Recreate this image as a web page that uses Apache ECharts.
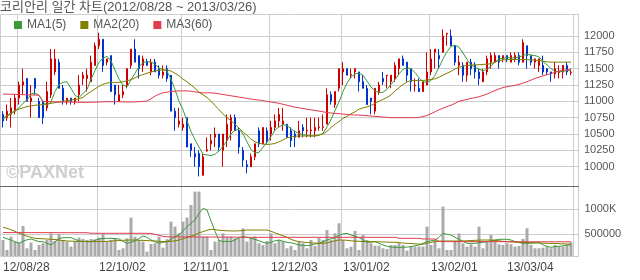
<!DOCTYPE html>
<html><head><meta charset="utf-8">
<script src="https://cdn.jsdelivr.net/npm/echarts@6/dist/echarts.min.js"></script>
<style>html,body{margin:0;padding:0;background:#fff;}#c{width:640px;height:280px;}</style>
</head><body><div id="c"></div>
<script>
const titleText = '코리안리 일간 차트(2012/08/28 ~ 2013/03/26)';
const dates = [
'12/08/28','12/08/29','12/08/30','12/08/31',
'12/09/03','12/09/04','12/09/05','12/09/06','12/09/07','12/09/10','12/09/11','12/09/12','12/09/13','12/09/14','12/09/17','12/09/18','12/09/19','12/09/20','12/09/21','12/09/24','12/09/25','12/09/26','12/09/27','12/09/28',
'12/10/02','12/10/04','12/10/05','12/10/08','12/10/09','12/10/10','12/10/11','12/10/12','12/10/15','12/10/16','12/10/17','12/10/18','12/10/19','12/10/22','12/10/23','12/10/24','12/10/25','12/10/26','12/10/29','12/10/30','12/10/31',
'12/11/01','12/11/02','12/11/05','12/11/06','12/11/07','12/11/08','12/11/09','12/11/12','12/11/13','12/11/14','12/11/15','12/11/16','12/11/19','12/11/20','12/11/21','12/11/22','12/11/23','12/11/26','12/11/27','12/11/28','12/11/29','12/11/30',
'12/12/03','12/12/04','12/12/05','12/12/06','12/12/07','12/12/10','12/12/11','12/12/12','12/12/13','12/12/14','12/12/17','12/12/18','12/12/20','12/12/21','12/12/24','12/12/26','12/12/27','12/12/28',
'13/01/02','13/01/03','13/01/04','13/01/07','13/01/08','13/01/09','13/01/10','13/01/11','13/01/14','13/01/15','13/01/16','13/01/17','13/01/18','13/01/21','13/01/22','13/01/23','13/01/24','13/01/25','13/01/28','13/01/29','13/01/30','13/01/31',
'13/02/01','13/02/04','13/02/05','13/02/06','13/02/07','13/02/08','13/02/12','13/02/13','13/02/14','13/02/15','13/02/18','13/02/19','13/02/20','13/02/21','13/02/22','13/02/25','13/02/26','13/02/27','13/02/28',
'13/03/04','13/03/05','13/03/06','13/03/07','13/03/08','13/03/11','13/03/12','13/03/13','13/03/14','13/03/15','13/03/18','13/03/19','13/03/20','13/03/21','13/03/22','13/03/25','13/03/26'];
const labelDates = ['12/08/28','12/10/02','12/11/01','12/12/03','13/01/02','13/02/01','13/03/04'];
const gridDates = ['12/09/03','12/10/02','12/11/01','12/12/03','13/01/02','13/02/01','13/03/04'];

const opens = [
10800,10750,10800,10850,11050,11250,11350,11000,11350,11000,
11000,10900,11100,11450,11600,11200,11000,11050,11000,11100,
11350,11350,11300,11550,11850,11950,11600,11700,11250,11000,
11100,11250,11550,11800,11700,11550,11600,11450,11600,11500,
11400,11500,11400,10850,10650,10600,10750,10350,10200,10200,
9870,10240,10350,10450,10500,10250,10400,10550,10750,10550,
10250,10030,10000,10150,10550,10350,10550,10500,10600,10700,
10650,10650,10550,10500,10450,10600,10550,10550,10550,10600,
10600,10650,11100,10950,11200,11450,11500,11400,11450,11450,
11300,11200,11050,10850,11150,11350,11390,11300,11350,11500,
11650,11600,11500,11240,11200,11150,11250,11450,11750,11700,
11750,12030,12000,11850,11550,11550,11400,11600,11550,11450,
11300,11450,11600,11600,11700,11650,11700,11600,11650,11700,
11600,11850,11700,11600,11550,11550,11500,11450,11420,11440,
11450,11550,11440];
const closes = [
10700,10850,10900,11050,11250,11300,11000,11050,11200,10750,
10750,11150,11650,11650,11200,11000,11050,11000,11050,11250,
11400,11400,11600,11850,11950,11550,11650,11150,11100,11100,
11150,11500,11800,11600,11500,11650,11550,11600,11450,11400,
11450,11350,10850,10750,10700,10650,10300,10250,10150,10000,
10150,10260,10400,10500,10300,10500,10650,10750,10550,10300,
10100,10000,10150,10350,10350,10600,10400,10600,10700,10800,
10700,10450,10400,10450,10550,10550,10560,10560,10600,10610,
10610,11100,11000,11150,11500,11500,11400,11410,11500,11300,
11200,10950,11000,11200,11250,11300,11400,11400,11550,11650,
11550,11400,11300,11250,11150,11300,11450,11650,11800,11650,
12000,12040,11850,11600,11600,11400,11600,11500,11450,11350,
11450,11650,11700,11700,11600,11700,11650,11700,11700,11600,
11900,11700,11600,11650,11650,11450,11450,11420,11500,11450,
11550,11450,11450];
const lows = [
10600,10700,10600,10800,10950,11100,11000,10750,11100,10750,
10650,10850,11050,11400,11200,10950,10950,10950,10950,11000,
11250,11150,11300,11550,11800,11450,11550,11150,10950,11000,
11050,11200,11500,11600,11350,11450,11550,11400,11450,11350,
11350,11300,10850,10550,10600,10550,10300,10150,10000,9850,
9860,10230,10250,10300,10250,10000,10300,10400,10550,10200,
10000,9900,10000,10100,10300,10350,10350,10400,10550,10600,
10550,10450,10300,10300,10450,10450,10450,10450,10450,10550,
10550,10650,10950,10900,11150,11250,11400,11350,11350,11150,
11200,10950,10800,10800,11100,11250,11200,11200,11300,11400,
11550,11300,11150,11150,11150,11150,11250,11400,11500,11500,
11750,11850,11850,11550,11400,11300,11300,11400,11350,11250,
11300,11400,11500,11600,11500,11600,11600,11600,11600,11550,
11600,11500,11550,11500,11450,11400,11400,11300,11350,11350,
11350,11400,11400];
const highs = [
10850,10950,11050,11100,11300,11500,11350,11250,11350,11050,
11000,11300,11800,11800,11650,11250,11050,11050,11050,11400,
11450,11500,11700,11900,12050,11950,11650,11700,11250,11250,
11250,11500,11800,11950,11700,11700,11650,11650,11650,11550,
11550,11550,11400,10900,10900,10750,10750,10350,10300,10250,
10200,10450,10500,10600,10500,10500,10800,10800,10800,10600,
10300,10100,10200,10350,10600,10600,10600,10700,10800,10900,
10900,10650,10600,10550,10700,10650,10750,10750,10750,10750,
10800,11200,11150,11150,11500,11600,11500,11500,11500,11450,
11400,11250,11050,11200,11300,11450,11400,11400,11600,11650,
11700,11600,11500,11350,11350,11300,11750,11800,11800,11800,
12100,12050,12100,11850,11700,11600,11600,11650,11600,11500,
11500,11700,11750,11750,11700,11700,11700,11750,11750,11750,
11950,11850,11700,11650,11650,11700,11500,11450,11600,11550,
11550,11600,11500];
const volumes = [
366000,166000,433000,333000,320000,646000,200000,313000,166000,266000,
300000,366000,500000,346000,486000,366000,333000,233000,346000,413000,
386000,366000,386000,380000,413000,500000,333000,366000,400000,166000,
200000,400000,813000,433000,366000,333000,133000,286000,300000,433000,
213000,380000,733000,633000,500000,733000,813000,1066000,1333000,1333000,
433000,433000,166000,333000,366000,500000,433000,433000,400000,400000,
600000,333000,400000,433000,300000,266000,346000,500000,300000,366000,
346000,200000,246000,166000,333000,300000,200000,366000,246000,413000,
366000,566000,366000,500000,700000,366000,200000,233000,546000,166000,
466000,366000,300000,253000,253000,200000,186000,266000,266000,300000,
266000,153000,233000,233000,233000,233000,633000,266000,366000,200000,
1033000,166000,166000,346000,500000,300000,233000,280000,233000,633000,
200000,333000,466000,366000,280000,266000,300000,280000,233000,246000,
386000,600000,266000,200000,200000,213000,233000,200000,266000,233000,
233000,266000,320000];
const ma5 = [
10730,10770,10810,10850,10900,10970,11020,11110,11130,11090,
10990,10940,10990,11150,11260,11290,11300,11200,11090,11060,
11120,11180,11340,11470,11600,11660,11690,11620,11480,11340,
11250,11220,11330,11430,11530,11590,11610,11600,11570,11510,
11490,11460,11340,11180,11000,10870,10700,10540,10410,10300,
10190,10180,10170,10190,10240,10310,10400,10500,10560,10570,
10500,10380,10260,10210,10220,10300,10370,10460,10560,10610,
10640,10630,10580,10540,10510,10490,10480,10470,10470,10480,
10510,10610,10720,10860,10990,11150,11280,11370,11420,11430,
11400,11310,11220,11160,11130,11140,11180,11260,11330,11420,
11490,11510,11500,11440,11360,11300,11290,11320,11400,11520,
11650,11760,11840,11860,11830,11740,11640,11560,11520,11490,
11470,11490,11540,11600,11650,11660,11670,11665,11665,11680,
11700,11720,11710,11700,11680,11610,11560,11500,11460,11450,
11460,11470,11480];
const ma20 = [
10740,10780,10820,10860,10880,10900,10920,10930,10940,10945,
10950,10960,10970,10980,10990,11000,11010,11020,11030,11040,
11060,11110,11150,11190,11230,11260,11280,11290,11290,11290,
11300,11315,11330,11360,11390,11410,11430,11450,11465,11475,
11480,11480,11465,11430,11390,11340,11300,11250,11200,11140,
11100,11060,11000,10940,10870,10810,10750,10700,10650,10590,
10530,10480,10420,10380,10360,10345,10340,10345,10355,10380,
10410,10440,10455,10465,10470,10470,10470,10470,10475,10485,
10500,10540,10600,10650,10690,10740,10770,10810,10840,10880,
10900,10915,10935,10970,11000,11030,11060,11100,11160,11210,
11260,11295,11320,11320,11320,11320,11325,11335,11345,11370,
11400,11430,11460,11495,11520,11540,11550,11555,11560,11560,
11565,11570,11575,11600,11625,11635,11638,11640,11640,11640,
11640,11638,11635,11630,11625,11615,11605,11600,11600,11600,
11600,11600,11600];
const ma60 = [
11110,11110,11108,11106,11104,11102,11100,11098,11096,11094,
11000,10995,10995,10992,10990,10990,10988,10988,10986,10986,
10985,10985,10986,10988,10990,10992,10994,10995,10995,10994,
10992,10990,10990,10992,10995,10998,11005,11040,11080,11110,
11130,11140,11150,11155,11160,11160,11160,11155,11145,11135,
11130,11130,11130,11125,11115,11105,11095,11085,11075,11065,
11055,11045,11035,11025,11020,11010,11000,10990,10980,10970,
10955,10940,10925,10910,10900,10890,10880,10870,10860,10850,
10840,10830,10820,10815,10810,10805,10800,10795,10790,10790,
10785,10780,10775,10770,10765,10760,10755,10750,10750,10750,
10750,10750,10750,10750,10755,10765,10785,10810,10840,10870,
10895,10920,10940,10970,11000,11015,11030,11045,11055,11070,
11090,11110,11140,11165,11190,11210,11225,11235,11245,11260,
11280,11300,11325,11350,11370,11390,11410,11425,11445,11465,
11475,11480,11485];
const vma5 = [
420000,390000,366000,330000,300000,340000,370000,386000,360000,333000,
333000,300000,266000,330000,400000,410000,413000,413000,380000,346000,
340000,335000,333000,360000,386000,395000,400000,400000,395000,386000,
340000,300000,320000,346000,400000,446000,420000,366000,330000,300000,
320000,333000,380000,433000,466000,550000,633000,700000,766000,900000,
1000000,966000,750000,540000,360000,333000,340000,333000,370000,410000,
433000,420000,400000,380000,350000,320000,300000,320000,350000,366000,
340000,320000,310000,290000,266000,260000,253000,265000,285000,300000,
330000,366000,390000,413000,460000,490000,500000,466000,440000,413000,
370000,320000,325000,333000,300000,266000,240000,225000,220000,220000,
220000,225000,235000,250000,266000,300000,333000,350000,366000,420000,
500000,480000,466000,420000,380000,340000,300000,300000,300000,310000,
320000,333000,350000,366000,380000,380000,380000,366000,333000,315000,
300000,300000,300000,310000,320000,266000,240000,220000,233000,240000,
250000,266000,270000];
const vma20 = [
620000,600000,570000,540000,500000,470000,445000,420000,400000,395000,
390000,385000,380000,375000,365000,355000,346000,343000,340000,338000,
336000,334000,333000,333000,333000,335000,340000,345000,350000,355000,
360000,363000,366000,366000,362000,358000,354000,350000,346000,340000,
336000,333000,340000,350000,366000,390000,420000,445000,466000,510000,
533000,560000,580000,575000,560000,555000,550000,548000,546000,550000,
556000,566000,566000,566000,566000,566000,566000,540000,510000,480000,
450000,420000,380000,350000,335000,325000,315000,310000,305000,300000,
300000,310000,330000,350000,366000,366000,360000,350000,345000,340000,
335000,333000,333000,333000,330000,327000,324000,322000,320000,315000,
305000,300000,295000,290000,285000,280000,300000,320000,333000,340000,
346000,346000,346000,346000,346000,346000,350000,355000,360000,363000,
366000,366000,366000,360000,350000,340000,333000,328000,325000,322000,
320000,316000,312000,308000,305000,302000,300000,298000,296000,293000,
290000,286000,285000];
const vma60 = [
515000,515000,514000,514000,514000,513000,513000,513000,513000,513000,
513000,513000,513000,513000,512000,512000,512000,512000,512000,512000,
512000,512000,501000,501000,500000,500000,500000,500000,500000,500000,
500000,500000,500000,500000,500000,500000,499000,498000,480000,460000,
440000,430000,428000,428000,427000,427000,426000,426000,425000,425000,
425000,425000,425000,425000,424000,424000,424000,423000,423000,422000,
422000,420000,420000,420000,420000,420000,420000,420000,420000,420000,
420000,420000,420000,420000,420000,420000,420000,420000,420000,420000,
420000,420000,420000,420000,420000,420000,420000,420000,420000,420000,
420000,420000,420000,420000,420000,420000,420000,420000,420000,400000,
400000,400000,400000,400000,400000,386000,386000,386000,386000,340000,
335000,333000,333000,333000,333000,333000,333000,333000,333000,333000,
333000,333000,333000,332000,332000,332000,331000,331000,331000,330000,
330000,330000,330000,330000,330000,330000,330000,330000,330000,330000,
330000,330000,330000];

const FONT = '"Liberation Sans", "Noto Sans CJK KR", sans-serif';
const C_MA5 = '#3a9a3a', C_MA20 = '#808000', C_MA60 = '#e23c4e';
const candles = dates.map((d, i) => [opens[i], closes[i], lows[i], highs[i]]);
const PL = 1, PW = 572;

function maLine(name, data, color, xi, yi) {
  return { name, type: 'line', xAxisIndex: xi, yAxisIndex: yi, data, symbol: 'none', showSymbol: false,
    lineStyle: { width: 1, color }, itemStyle: { color }, emphasis: { disabled: true }, z: 3 };
}

const chart = echarts.init(document.getElementById('c'), null, { renderer: 'canvas' });
chart.setOption({
  animation: false,
  backgroundColor: '#ffffff',
  title: { text: titleText, left: 0, top: 1, padding: 0,
    textStyle: { fontSize: 13, fontWeight: 'normal', color: '#555', fontFamily: FONT } },
  legend: { left: 9, top: 14, itemWidth: 8, itemHeight: 8, itemGap: 14, icon: 'rect', selectedMode: false,
    data: ['MA1(5)', 'MA2(20)', 'MA3(60)'], textStyle: { fontSize: 12, color: '#555', fontFamily: FONT } },
  graphic: [{ type: 'text', left: 6, top: 164, z: 1, silent: true,
    style: { text: '©PAXNet', font: 'bold 18px "Liberation Sans"', fill: '#cfcfcf' } }],
  grid: [
    { left: 0.5, top: 14.5, width: 578, height: 172, show: true, borderColor: '#cccccc', borderWidth: 1 },
    { left: PL, top: 14, width: PW, height: 172 },
    { left: 0, top: 19.67, width: 578, height: 163.33 },
    { left: PL, top: 19.67, width: PW, height: 163.33 },
    { left: 0.5, top: 186.5, width: 578, height: 70, show: true, borderColor: '#cccccc', borderWidth: 1 },
    { left: PL, top: 186, width: PW, height: 70 }
  ],
  xAxis: [
    { gridIndex: 0, type: 'value', min: 0, max: 1, z: 10,
      axisLine: { show: true, onZero: false, lineStyle: { color: '#666', width: 1 } },
      axisTick: { show: false }, axisLabel: { show: false }, splitLine: { show: false } },
    { gridIndex: 1, type: 'category', data: dates, axisLine: { show: false }, axisTick: { show: false },
      axisLabel: { show: false },
      splitLine: { show: true, interval: (i, v) => gridDates.includes(v), lineStyle: { color: '#cccccc', width: 1 } } },
    { gridIndex: 2, type: 'value', show: false },
    { gridIndex: 3, type: 'category', data: dates, show: false },
    { gridIndex: 4, type: 'value', show: false },
    { gridIndex: 5, type: 'category', data: dates, axisLine: { show: false }, axisTick: { show: false },
      axisLabel: { interval: (i, v) => labelDates.includes(v), align: 'left', margin: 6,
        fontSize: 12, color: '#444', fontFamily: FONT },
      splitLine: { show: true, interval: (i, v) => gridDates.includes(v), lineStyle: { color: '#cccccc', width: 1 } } }
  ],
  yAxis: [
    { gridIndex: 0, type: 'value', show: false },
    { gridIndex: 1, type: 'value', show: false },
    { gridIndex: 2, type: 'value', position: 'right', min: 9750, max: 12250, interval: 250,
      axisLine: { show: false }, axisTick: { show: false },
      axisLabel: { margin: 6, fontSize: 11, color: '#555', fontFamily: FONT, showMinLabel: false, showMaxLabel: false,
        formatter: v => String(v) },
      splitLine: { show: true, showMinLine: false, showMaxLine: false, lineStyle: { color: '#cccccc', width: 1 } } },
    { gridIndex: 3, type: 'value', min: 9750, max: 12250, show: false },
    { gridIndex: 4, type: 'value', position: 'right', min: 46000, max: 1446000, splitNumber: 3,
      axisLine: { show: false }, axisTick: { show: false },
      axisLabel: { margin: 6, fontSize: 11, color: '#555', fontFamily: FONT, showMinLabel: false, showMaxLabel: false,
        formatter: v => (v >= 1000000 ? (v / 1000) + 'K' : String(v)) },
      splitLine: { show: true, showMinLine: false, showMaxLine: false, lineStyle: { color: '#cccccc', width: 1 } } },
    { gridIndex: 5, type: 'value', min: 46000, max: 1446000, show: false }
  ],
  series: [
    { type: 'candlestick', xAxisIndex: 3, yAxisIndex: 3, data: candles, barWidth: 2, clip: false,
      itemStyle: { color: '#cc0000', color0: '#0033cc', borderColor: '#cc0000', borderColor0: '#0033cc', borderWidth: 1 },
      emphasis: { disabled: true }, z: 2 },
    maLine('MA1(5)', ma5, C_MA5, 3, 3),
    maLine('MA2(20)', ma20, C_MA20, 3, 3),
    maLine('MA3(60)', ma60, C_MA60, 3, 3),
    { type: 'bar', xAxisIndex: 5, yAxisIndex: 5, data: volumes, barWidth: 3,
      itemStyle: { color: '#aaaaaa' }, emphasis: { disabled: true }, z: 2 },
    maLine('VMA1', vma5, C_MA5, 5, 5),
    maLine('VMA2', vma20, C_MA20, 5, 5),
    maLine('VMA3', vma60, C_MA60, 5, 5)
  ]
});
</script>
</body></html>
